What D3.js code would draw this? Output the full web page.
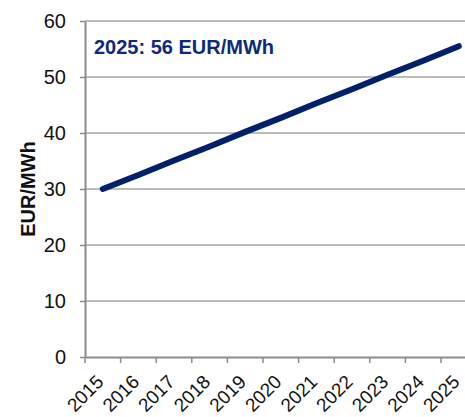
<!DOCTYPE html>
<html>
<head>
<meta charset="utf-8">
<script src="https://cdn.jsdelivr.net/npm/d3@7"></script>
<style>
  body { margin: 0; background: #fff; }
  svg { display: block; font-family: "Liberation Sans", Arial, sans-serif; }
</style>
</head>
<body>
<div id="container"></div>
<script>
/* Données */
const years = ["2015", "2016", "2017", "2018", "2019", "2020", "2021", "2022", "2023", "2024", "2025"];
const prices = [30, 32.5, 35.1, 37.6, 40.2, 42.7, 45.3, 47.8, 50.4, 52.9, 55.5];
const yTicks = [0, 10, 20, 30, 40, 50, 60];
const annotationText = "2025: 56 EUR/MWh";
const yTitle = "EUR/MWh";

/* Dimensions */
const width = 465, height = 417;
const plotLeft = 85, plotTop = 21, plotBottom = 357;
const bandW = 35.6;
const navy = "#00206b";

const svg = d3.select("#container").append("svg")
  .attr("width", width)
  .attr("height", height);

const x = d3.scaleBand()
  .domain(years)
  .range([plotLeft, plotLeft + years.length * bandW])
  .padding(0);

const y = d3.scaleLinear()
  .domain([0, 60])
  .range([plotBottom, plotTop]);

/* Grille horizontale */
svg.append("g")
  .selectAll("line")
  .data(yTicks.filter(d => d > 0))
  .enter().append("line")
    .attr("x1", plotLeft)
    .attr("x2", width)
    .attr("y1", d => y(d))
    .attr("y2", d => y(d))
    .style("stroke", "#a6a6a6")
    .style("stroke-width", 1.5);

/* Axe Y */
const yAxis = svg.append("g")
  .attr("transform", "translate(" + plotLeft + ",0)")
  .call(d3.axisLeft(y).tickValues(yTicks).tickSize(5).tickSizeOuter(0).tickPadding(14));
yAxis.select(".domain").style("stroke", "#8c8c8c").style("stroke-width", 2);
yAxis.selectAll(".tick line").style("stroke", "#8c8c8c").style("stroke-width", 1.5);
yAxis.selectAll(".tick text")
  .style("font-size", "20px")
  .style("fill", "#111");

/* Axe X */
const xAxis = svg.append("g")
  .attr("transform", "translate(0," + plotBottom + ")")
  .call(d3.axisBottom(x).tickSize(6).tickSizeOuter(0));
xAxis.select(".domain").style("stroke", "#8c8c8c").style("stroke-width", 2);
xAxis.selectAll(".tick line")
  .attr("x1", -bandW / 2)
  .attr("x2", -bandW / 2)
  .style("stroke", "#8c8c8c")
  .style("stroke-width", 1.5);
xAxis.selectAll(".tick text")
  .attr("x", 0)
  .attr("y", 0)
  .attr("dy", 0)
  .attr("transform", "translate(2,26) rotate(-45)")
  .style("text-anchor", "end")
  .style("font-size", "19px")
  .style("fill", "#111");

/* Courbe */
const line = d3.line()
  .x((d, i) => x(years[i]) + x.bandwidth() / 2)
  .y(d => y(d));

svg.append("path")
  .datum(prices)
  .attr("d", line)
  .style("fill", "none")
  .style("stroke", navy)
  .style("stroke-width", 6)
  .style("stroke-linecap", "round")
  .style("stroke-linejoin", "round");

/* Titre de l'axe Y */
svg.append("text")
  .attr("transform", "translate(35," + ((plotTop + plotBottom) / 2) + ") rotate(-90)")
  .style("text-anchor", "middle")
  .style("font-size", "20px")
  .style("font-weight", "bold")
  .style("fill", "#111")
  .text(yTitle);

/* Annotation */
svg.append("text")
  .attr("x", 94)
  .attr("y", 54)
  .style("font-size", "20px")
  .style("font-weight", "bold")
  .style("fill", "#0d2b7c")
  .text(annotationText);
</script>
</body>
</html>
